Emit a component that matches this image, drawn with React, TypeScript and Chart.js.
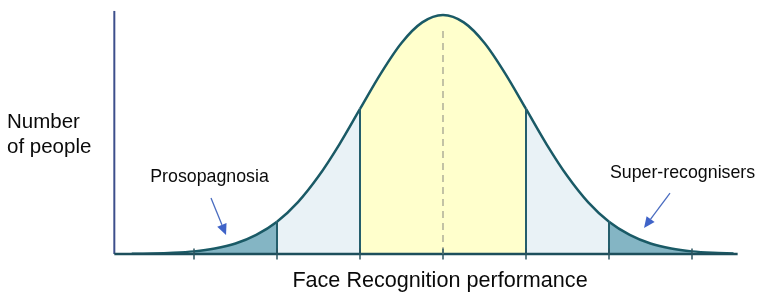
import React, { useEffect, useRef } from "react";
import { Chart, registerables } from "chart.js";

Chart.register(...registerables);

// Performance in standard deviations from the mean
const curveX = [-3.75, -3.5, -3.25, -3, -2.75, -2.5, -2.25, -2, -1.75, -1.5, -1.25, -1, -0.75, -0.5, -0.25, 0,
  0.25, 0.5, 0.75, 1, 1.25, 1.5, 1.75, 2, 2.25, 2.5, 2.75, 3, 3.25, 3.5];
// Relative number of people (peak = 1)
const curveY = [0.001, 0.002, 0.005, 0.011, 0.023, 0.044, 0.08, 0.135, 0.216, 0.325, 0.458, 0.607, 0.755, 0.883, 0.969, 1.0,
  0.969, 0.883, 0.755, 0.607, 0.458, 0.325, 0.216, 0.135, 0.08, 0.044, 0.023, 0.011, 0.005, 0.002];
const tickX = [-3, -2, -1, 0, 1, 2, 3];
const bandEdges = [-2, -1, 1, 2];
const axisStartX = -3.96;
const axisEndX = 3.55;
const axisTopY = 1.017;
const meanLineTop = 0.946;

const yTitle = ["Number", "of people"];
const xTitle = "Face Recognition performance";
const leftLabel = "Prosopagnosia";
const rightLabel = "Super-recognisers";

const FONT = "'Liberation Sans', Arial, Helvetica, sans-serif";

export default function App() {
  const ref = useRef<HTMLCanvasElement | null>(null);

  useEffect(() => {
    if (!ref.current) return;
    const curve = curveX.map((x, i) => ({ x, y: curveY[i] }));
    const edgeDatasets = bandEdges.map((e) => {
      const i = curveX.indexOf(e);
      return {
        type: "line" as const,
        data: [{ x: e, y: 0 }, { x: e, y: curveY[i] }],
        borderColor: "#245e6c",
        borderWidth: 2,
        pointRadius: 0,
        fill: false,
        order: 2,
      };
    });

    const annotations = {
      id: "annotations",
      afterDatasetsDraw(chart: any) {
        const { ctx } = chart;
        const xs = chart.scales.x;
        const ys = chart.scales.y;
        const px = (v: number) => xs.getPixelForValue(v);
        const py = (v: number) => ys.getPixelForValue(v);
        ctx.save();
        ctx.fillStyle = "#0a0a0a";
        ctx.textBaseline = "alphabetic";
        // labels
        ctx.font = `17.8px ${FONT}`;
        ctx.textAlign = "center";
        ctx.fillText(leftLabel, px(-2.813), py(0.301));
        ctx.fillText(rightLabel, px(2.886), py(0.318));
        ctx.font = `21.6px ${FONT}`;
        ctx.fillText(xTitle, px(-0.036), py(-0.138));
        ctx.font = `20.5px ${FONT}`;
        ctx.textAlign = "left";
        ctx.fillText(yTitle[0], px(-5.253), py(0.527));
        ctx.fillText(yTitle[1], px(-5.253), py(0.4226));

        // arrows
        const arrow = (x0: number, y0: number, x1: number, y1: number) => {
          const ax = px(x0), ay = py(y0), bx = px(x1), by = py(y1);
          const ang = Math.atan2(by - ay, bx - ax);
          const len = 11, half = 5;
          const hx = bx - Math.cos(ang) * len, hy = by - Math.sin(ang) * len;
          ctx.strokeStyle = "#4a6cc0";
          ctx.lineWidth = 1.3;
          ctx.beginPath();
          ctx.moveTo(ax, ay);
          ctx.lineTo(hx, hy);
          ctx.stroke();
          ctx.fillStyle = "#3f63c8";
          ctx.beginPath();
          ctx.moveTo(bx, by);
          ctx.lineTo(hx + Math.sin(ang) * half, hy - Math.cos(ang) * half);
          ctx.lineTo(hx - Math.sin(ang) * half, hy + Math.cos(ang) * half);
          ctx.closePath();
          ctx.fill();
        };
        arrow(-2.795, 0.234, -2.614, 0.0795);
        arrow(2.735, 0.255, 2.422, 0.109);
        ctx.restore();
      },
    };

    const chart = new Chart(ref.current, {
      type: "line",
      data: {
        datasets: [
          {
            data: curve,
            borderColor: "#1a5a66",
            borderWidth: 2.5,
            pointRadius: 0,
            cubicInterpolationMode: "monotone",
            fill: "origin",
            backgroundColor: "rgba(0,0,0,0)",
            segment: {
              backgroundColor: (c: any) => {
                const m = Math.abs((c.p0.parsed.x + c.p1.parsed.x) / 2);
                if (m < 1) return "#ffffcc";
                if (m < 2) return "#e9f2f6";
                if (m < 3) return "#84b5c4";
                return "rgba(0,0,0,0)";
              },
            },
            order: 3,
          } as any,
          ...edgeDatasets,
          {
            data: [{ x: 0, y: 0 }, { x: 0, y: meanLineTop }],
            borderColor: "#b4b49c",
            borderWidth: 1.6,
            borderDash: [7, 5],
            pointRadius: 0,
            fill: false,
            order: 1,
          },
          {
            data: [{ x: axisStartX, y: 0 }, { x: axisEndX, y: 0 }],
            borderColor: "#1d4f5c",
            borderWidth: 2.5,
            pointRadius: 0,
            fill: false,
            order: 1,
          },
          {
            data: [{ x: axisStartX, y: 0 }, { x: axisStartX, y: axisTopY }],
            borderColor: "#3d4f8c",
            borderWidth: 2,
            pointRadius: 0,
            fill: false,
            order: 1,
          },
          {
            data: tickX.map((x) => ({ x, y: 0 })),
            showLine: false,
            pointStyle: "line",
            rotation: 90,
            pointRadius: 5.5,
            pointBorderWidth: 1.5,
            pointBorderColor: "#2c5560",
            borderColor: "#2c5560",
            order: 0,
          } as any,
        ],
      },
      options: {
        animation: false,
        responsive: false,
        events: [],
        layout: { padding: 0, autoPadding: false },
        plugins: { legend: { display: false }, tooltip: { enabled: false } },
        scales: {
          x: { type: "linear", display: false, min: -5.3373, max: 3.8795 },
          y: { type: "linear", display: false, min: -0.18828, max: 1.06276 },
        },
      },
      plugins: [annotations],
    });
    return () => chart.destroy();
  }, []);

  return (
    <div style={{ position: "absolute", left: 0, top: 0, width: 765, height: 299, background: "#ffffff" }}>
      <canvas ref={ref} width={765} height={299} style={{ width: 765, height: 299, display: "block" }} />
    </div>
  );
}
